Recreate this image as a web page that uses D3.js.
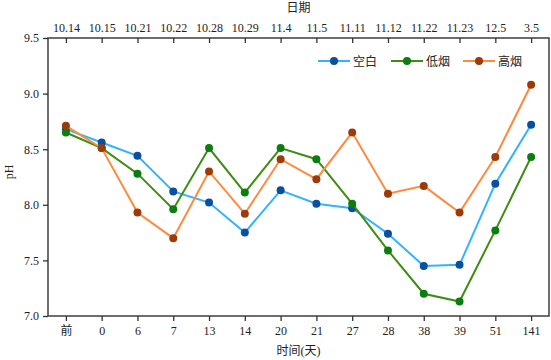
<!doctype html>
<html lang="zh">
<head>
  <meta charset="utf-8">
  <title>pH - D3</title>
  <style>
    body { margin: 0; background: #fff; }
    svg text { font-family: "Liberation Serif", "Noto Sans CJK SC", serif; fill: #222; }
  </style>
</head>
<body>
  <svg width="551" height="360"></svg>

  <script src="https://cdn.jsdelivr.net/npm/d3@7/dist/d3.min.js"></script>
  <script>
    // 横轴：时间(天)，顶轴：日期
    var days = ['前', '0', '6', '7', '13', '14', '20', '21', '27', '28', '38', '39', '51', '141'];
    var dates = ['10.14', '10.15', '10.21', '10.22', '10.28', '10.29', '11.4', '11.5', '11.11', '11.12', '11.22', '11.23', '12.5', '3.5'];
    var yTicks = [7.0, 7.5, 8.0, 8.5, 9.0, 9.5];

    var blank = [8.68, 8.56, 8.44, 8.12, 8.02, 7.75, 8.13, 8.01, 7.97, 7.74, 7.45, 7.46, 8.19, 8.72];
    var lowSmoke = [8.65, 8.51, 8.28, 7.96, 8.51, 8.11, 8.51, 8.41, 8.01, 7.59, 7.20, 7.13, 7.77, 8.43];
    var highSmoke = [8.71, 8.51, 7.93, 7.70, 8.30, 7.92, 8.41, 8.23, 8.65, 8.10, 8.17, 7.93, 8.43, 9.08];

    var seriesNames = ['空白', '低烟', '高烟'];
    var lineColors = ['#33b3ff', '#3e8c12', '#ff8a3d'];
    var dotColors = ['#0b4f9e', '#0c7d10', '#9c3a0a'];
    var seriesData = [blank, lowSmoke, highSmoke];

    var pLeft = 48, pRight = 549, pTop = 38, pBottom = 316;
    var svg = d3.select('svg');

    var x = d3.scalePoint().domain(d3.range(days.length)).range([pLeft, pRight]).padding(0.5);
    var y = d3.scaleLinear().domain([7.0, 9.5]).range([pBottom, pTop]);

    // 边框
    svg.append('rect')
      .attr('x', pLeft).attr('y', pTop)
      .attr('width', pRight - pLeft).attr('height', pBottom - pTop)
      .attr('fill', 'none').attr('stroke', '#4a4a4a').attr('stroke-width', 1.6);

    // 底部坐标轴
    var xb = svg.append('g').attr('transform', 'translate(0,' + pBottom + ')')
      .call(d3.axisBottom(x).tickSize(5).tickPadding(5).tickFormat(i => days[i]));
    // 顶部坐标轴（刻度向内）
    var xt = svg.append('g').attr('transform', 'translate(0,' + pTop + ')')
      .call(d3.axisTop(x).tickSize(-5).tickPadding(6).tickFormat(i => dates[i]));
    // 左侧坐标轴
    var yl = svg.append('g').attr('transform', 'translate(' + pLeft + ',0)')
      .call(d3.axisLeft(y).tickValues(yTicks).tickSize(5).tickPadding(4).tickFormat(d3.format('.1f')));

    [xb, xt, yl].forEach(function (a) {
      a.select('.domain').remove();
      a.selectAll('.tick line').attr('stroke', '#333').attr('stroke-width', 1.3);
      a.selectAll('.tick text').attr('font-size', 12).style('fill', '#222');
    });

    svg.append('text').attr('x', (pLeft + pRight) / 2).attr('y', 12)
      .attr('text-anchor', 'middle').attr('font-size', 12).text('日期');
    svg.append('text').attr('x', (pLeft + pRight) / 2).attr('y', 355)
      .attr('text-anchor', 'middle').attr('font-size', 12).text('时间(天)');
    svg.append('text').attr('transform', 'translate(13,' + ((pTop + pBottom) / 2 - 5) + ') rotate(-90)')
      .attr('text-anchor', 'middle').attr('font-size', 12).text('pH');

    var line = d3.line().x((v, i) => x(i)).y(v => y(v));

    seriesData.forEach(function (data, k) {
      var g = svg.append('g');
      g.append('path').datum(data)
        .attr('d', line)
        .attr('fill', 'none')
        .attr('stroke', lineColors[k])
        .attr('stroke-width', 2);
      g.selectAll('circle').data(data).enter()
        .append('circle')
        .attr('cx', (v, i) => x(i))
        .attr('cy', v => y(v))
        .attr('r', 4)
        .attr('fill', dotColors[k]);
    });

    // 图例
    var legendX = [318, 391, 463];
    var legend = svg.append('g').attr('transform', 'translate(0,61)');
    seriesNames.forEach(function (name, k) {
      legend.append('line')
        .attr('x1', legendX[k]).attr('x2', legendX[k] + 32)
        .attr('stroke', lineColors[k]).attr('stroke-width', 2);
      legend.append('circle')
        .attr('cx', legendX[k] + 16).attr('r', 4).attr('fill', dotColors[k]);
      legend.append('text')
        .attr('x', legendX[k] + 35).attr('y', 4.5)
        .attr('font-size', 12).text(name);
    });
  </script>
</body>
</html>
